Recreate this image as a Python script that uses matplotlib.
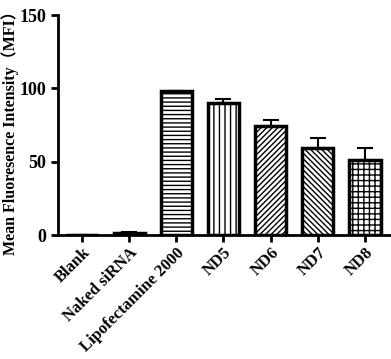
import numpy as np
import matplotlib
matplotlib.use('Agg')
from matplotlib import pyplot as plt

groups = ['Blank', 'Naked siRNA', 'Lipofectamine 2000', 'ND5', 'ND6', 'ND7', 'ND8']
mfi = [0, 1.5, 98, 90, 74.5, 59.5, 51]
mfi_err = [0, 0.5, 0.5, 3, 4, 7, 8.7]
hatches = ['', '', '----', '|||', '//////', '\\\\\\\\\\\\', '+++']

plt.rcParams['font.family'] = ['Liberation Serif', 'Noto Sans CJK SC']
plt.rcParams['font.weight'] = 'bold'
plt.rcParams['hatch.linewidth'] = 1.0

fig = plt.figure(figsize=(3.91, 3.59), dpi=100)
ax = fig.add_axes([0.148, 0.345, 0.852, 0.613])

x = np.arange(len(groups))
for i in range(len(groups)):
    ax.bar(x[i], mfi[i], width=0.66, color='white', edgecolor='black',
           linewidth=2.5, hatch=hatches[i], zorder=2)
    ax.errorbar(x[i], mfi[i], yerr=[[0], [mfi_err[i]]], color='black',
                elinewidth=1.5, capsize=5.5, capthick=1.5, zorder=1)

ax.set_xlim(-0.51, 6.55)
ax.set_ylim(0, 150)
ax.set_yticks([0, 50, 100, 150])
ax.set_xticks(x)
ax.set_xticklabels(groups, rotation=45, ha='right', rotation_mode='anchor', fontsize=12)
ax.tick_params(axis='y', labelsize=13, width=2, length=5)
ax.tick_params(axis='x', width=2, length=5, pad=2)
ax.spines['top'].set_visible(False)
ax.spines['right'].set_visible(False)
ax.spines['left'].set_linewidth(2)
ax.spines['bottom'].set_linewidth(2)

fig.text(0.026, 0.64, 'Mean Fluoresence Intensity（MFI）', rotation=90,
         ha='center', va='center', fontsize=11.5, fontweight='bold')

fig.savefig('out.png', dpi=100)
